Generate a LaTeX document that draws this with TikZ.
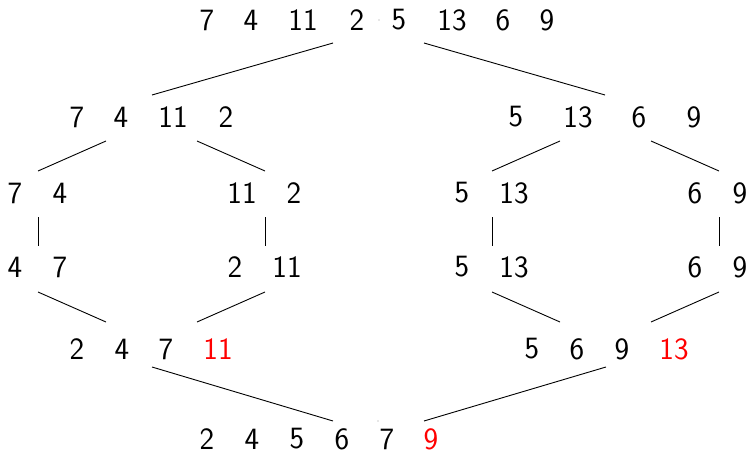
\documentclass[tikz,border=0pt]{standalone}
\begin{document}
\begin{tikzpicture}[x=1pt,y=-1pt,
  num/.style={inner sep=0pt,font=\fontsize{31}{33}\selectfont\sffamily},
  hot/.style={num,text=red},
  edge/.style={line width=0.9pt}]
\useasboundingbox (0,0) rectangle (750,452);
% row 1
\node[num] (a1) at (207,20) {7};
\node[num] (a2) at (251,20) {4};
\node[num] (a3) at (303,20) {11};
\node[num] (a4) at (357,20) {2};
\node[num] (a5) at (399,20) {5};
\node[num] (a6) at (452,20) {13};
\node[num] (a7) at (503,20) {6};
\node[num] (a8) at (547,20) {9};
% row 2
\node[num] (b1) at (77,117) {7};
\node[num] (b2) at (121,117) {4};
\node[num] (b3) at (173,117) {11};
\node[num] (b4) at (226,117) {2};
\node[num] (b5) at (516,117) {5};
\node[num] (b6) at (578,117) {13};
\node[num] (b7) at (639,117) {6};
\node[num] (b8) at (694,117) {9};
% row 3
\node[num] (c1) at (15,193) {7};
\node[num] (c2) at (60,193) {4};
\node[num] (c3) at (242,193) {11};
\node[num] (c4) at (294,193) {2};
\node[num] (c5) at (462,193) {5};
\node[num] (c6) at (514,193) {13};
\node[num] (c7) at (695,193) {6};
\node[num] (c8) at (740,193) {9};
% row 4
\node[num] (d1) at (15,267) {4};
\node[num] (d2) at (60,267) {7};
\node[num] (d3) at (235,267) {2};
\node[num] (d4) at (287,267) {11};
\node[num] (d5) at (462,267) {5};
\node[num] (d6) at (514,267) {13};
\node[num] (d7) at (695,267) {6};
\node[num] (d8) at (740,267) {9};
% row 5
\node[num] (e1) at (77,349) {2};
\node[num] (e2) at (122,349) {4};
\node[num] (e3) at (166,349) {7};
\node[hot] (e4) at (218,349) {11};
\node[num] (e5) at (532,349) {5};
\node[num] (e6) at (577,349) {6};
\node[num] (e7) at (622,349) {9};
\node[hot] (e8) at (674,349) {13};
% row 6
\node[num] (f1) at (207,439) {2};
\node[num] (f2) at (252,439) {4};
\node[num] (f3) at (297,439) {5};
\node[num] (f4) at (342,439) {6};
\node[num] (f5) at (387,439) {7};
\node[hot] (f6) at (431,439) {9};
% connector ends
\coordinate (t1) at (333,43);  \coordinate (t2) at (424,43);
\coordinate (u1) at (152,95);  \coordinate (u2) at (605,95);
\coordinate (v1) at (106,141); \coordinate (v2) at (197,141);
\coordinate (v3) at (560,141); \coordinate (v4) at (651,141);
\coordinate (w1) at (38,171);  \coordinate (w2) at (265,171);
\coordinate (w3) at (492,171); \coordinate (w4) at (719,171);
\coordinate (x1) at (38,217);  \coordinate (x2) at (265,217);
\coordinate (x3) at (492,217); \coordinate (x4) at (719,217);
\coordinate (y1) at (38,246);  \coordinate (y2) at (265,246);
\coordinate (y3) at (492,246); \coordinate (y4) at (719,246);
\coordinate (z1) at (38,292);  \coordinate (z2) at (265,292);
\coordinate (z3) at (492,292); \coordinate (z4) at (719,292);
\coordinate (q1) at (106,322); \coordinate (q2) at (197,322);
\coordinate (q3) at (560,322); \coordinate (q4) at (651,322);
\coordinate (r1) at (152,367); \coordinate (r2) at (606,367);
\coordinate (s1) at (333,421); \coordinate (s2) at (424,421);
\coordinate (dot1) at (379,20); \coordinate (dot2) at (378,421);
\fill[black!40] (dot1) circle (0.6);
\fill[black!40] (dot2) circle (0.6);
% connectors
\draw[edge] (t1) -- (u1);
\draw[edge] (t2) -- (u2);
\draw[edge] (v1) -- (w1);
\draw[edge] (v2) -- (w2);
\draw[edge] (v3) -- (w3);
\draw[edge] (v4) -- (w4);
\draw[edge] (x1) -- (y1);
\draw[edge] (x2) -- (y2);
\draw[edge] (x3) -- (y3);
\draw[edge] (x4) -- (y4);
\draw[edge] (z1) -- (q1);
\draw[edge] (z2) -- (q2);
\draw[edge] (z3) -- (q3);
\draw[edge] (z4) -- (q4);
\draw[edge] (r1) -- (s1);
\draw[edge] (r2) -- (s2);
\end{tikzpicture}
\end{document}
